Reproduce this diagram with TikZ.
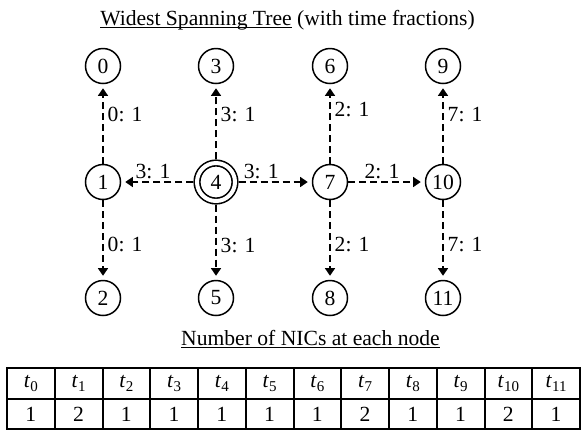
\documentclass[tikz,border=0pt]{standalone}
\usepackage{fontspec}
\setmainfont{Liberation Serif}
\usepackage{tikz}
\usetikzlibrary{arrows.meta}

\newcommand{\tsub}[1]{\textit{t}\raisebox{-0.45ex}{\fontsize{7.5}{8}\selectfont #1}}
\newcommand{\uln}[1]{\setbox0\hbox{#1}\rlap{\rule[-1.3pt]{\wd0}{0.55pt}}\box0\relax}

\tikzset{
  nd/.style={circle,draw,line width=0.75pt,minimum size=17.5pt,inner sep=0.5pt},
  ed/.style={dash pattern=on 3.5pt off 2pt,line width=0.7pt,-{Triangle[length=3.8pt,width=5pt]},shorten >=2pt},
  lbl/.style={right,inner sep=2pt},
  lblup/.style={above,inner sep=1.5pt},
  tab/.style={line width=1pt}
}

\begin{document}
\begin{tikzpicture}[x=0.5pt,y=-0.5pt,font=\fontsize{10.8}{13}\selectfont]
     \useasboundingbox (0,0) rectangle (582,430);
     %标题
     \node (title) at (287.5,20) {\uln{Widest Spanning Tree} (with time fractions)};

     %节点
     \foreach \n/\x/\y in {0/103/66,1/103/182,2/103/298,3/216/66,5/216/298,6/330/66,
                          7/330/182,8/330/298,9/443/66,10/443/182,11/443/298}  {
     	\node[nd] (n\n) at (\x,\y) {\n};
     }
     \node[nd,double,double distance=2pt,line width=0.8pt,minimum size=19pt,outer sep=1.8pt] (n4) at (216,182) {4};

     %边
     \draw[ed] (n1) -- node[lbl,pos=.62]{0: 1} (n0);
     \draw[ed] (n1) -- node[lbl,pos=.56]{0: 1} (n2);
     \draw[ed] (n4) -- node[lbl,pos=.60]{3: 1} (n3);
     \draw[ed] (n4) -- node[lbl,pos=.54]{3: 1} (n5);
     \draw[ed] (n7) -- node[lbl,pos=.68]{2: 1} (n6);
     \draw[ed] (n7) -- node[lbl,pos=.56]{2: 1} (n8);
     \draw[ed] (n10) -- node[lbl,pos=.62]{7: 1} (n9);
     \draw[ed] (n10) -- node[lbl,pos=.56]{7: 1} (n11);
     \draw[ed] (n4) -- node[lblup,pos=.56]{3: 1} (n1);
     \draw[ed] (n4) -- node[lblup,pos=.31]{3: 1} (n7);
     \draw[ed] (n7) -- node[lblup,pos=.44]{2: 1} (n10);

     %表格
     \node (tabtitle) at (310.5,339) {\uln{Number of NICs at each node}};
     \draw[tab] (7,368) rectangle (580,429);
     \draw[tab] (7,399) -- (580,399);
     \foreach \i in {1,...,11}  {
     	\draw[tab] (7+\i*47.75,368) -- (7+\i*47.75,429);
     }
     \foreach \v [count=\i from 0] in {1,2,1,1,1,1,1,2,1,1,2,1}  {
     	\node (h\i) at (30.875+\i*47.75,383.5) {\tsub{\i}};
     	\node (c\i) at (30.875+\i*47.75,414.5) {\v};
     }

\end{tikzpicture}
\end{document}
